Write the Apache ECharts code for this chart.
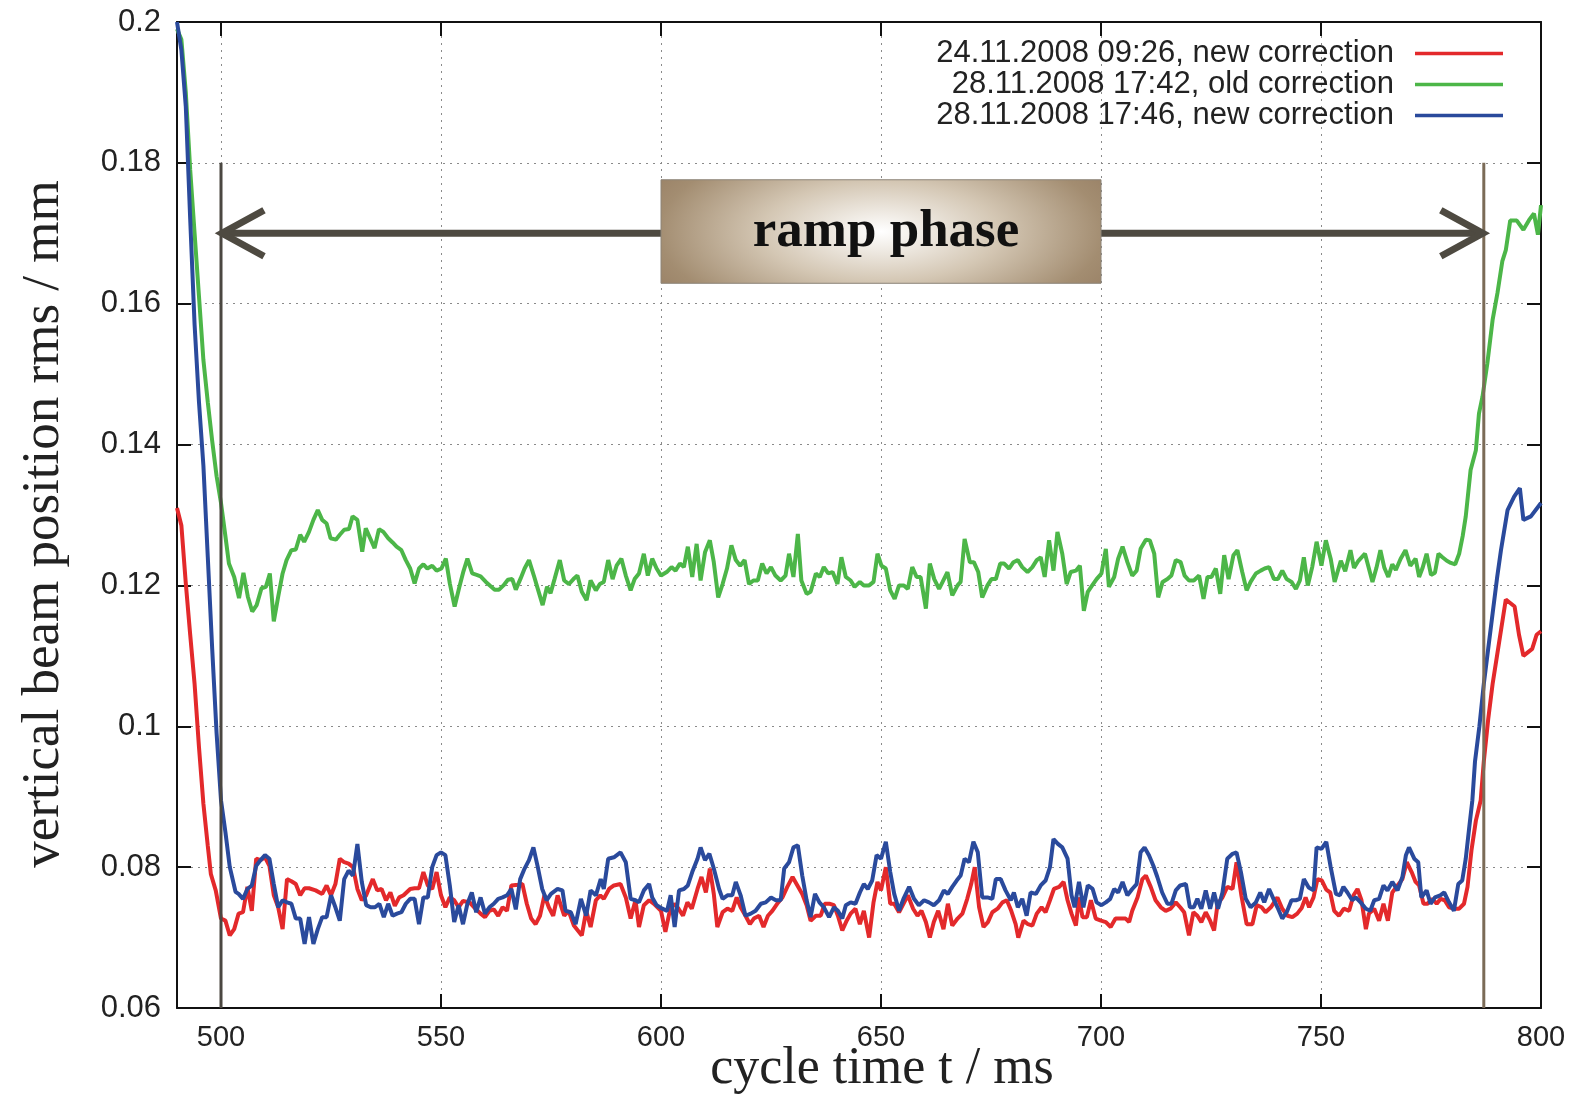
<!DOCTYPE html>
<html><head><meta charset="utf-8">
<script src="https://cdn.jsdelivr.net/npm/echarts@6/dist/echarts.min.js"></script>
<style>html,body{margin:0;padding:0;background:#fff}#c{width:1579px;height:1114px}</style>
</head><body><div id="c"></div>
<script>
const seriesNames = ['24.11.2008 09:26, new correction', '28.11.2008 17:42, old correction', '28.11.2008 17:46, new correction'];
const xTickValues = [500, 550, 600, 650, 700, 750, 800];
const xTitle = 'cycle time t / ms';
const yTitle = 'vertical beam position rms / mm';
const rampLabel = 'ramp phase';
const rampStart = 500, rampEnd = 787, arrowLevel = 0.17, markerTop = 0.18;
const boxX = [600, 700], boxY = [0.1776, 0.1629];

const redData = [[490,0.131],[491,0.1285],[492,0.1203],[493,0.113],[494,0.106],[495,0.097],[496,0.089],[497,0.083],[497.7,0.079],[498.8,0.0767],[500,0.0727],[501,0.0724],[502,0.0703],[503,0.0712],[504,0.0734],[505,0.0736],[506,0.0772],[507,0.0738],[508,0.0812],[509,0.081],[510,0.0814],[511,0.0802],[512,0.076],[513,0.0743],[514,0.0712],[515,0.0783],[516,0.078],[517,0.0776],[518,0.076],[519,0.077],[520,0.077],[521.5,0.0767],[523,0.0762],[524,0.0774],[525,0.076],[526,0.0776],[527,0.0812],[528,0.0807],[529,0.0805],[530,0.08],[531,0.0769],[532,0.0753],[533,0.076],[534.5,0.0783],[535.5,0.0767],[536.5,0.0769],[537.5,0.0753],[538.5,0.0764],[539.5,0.0745],[540.5,0.0757],[541.5,0.076],[543,0.0769],[544,0.077],[545,0.077],[546,0.0793],[547,0.0774],[548,0.0769],[549,0.0793],[550,0.076],[551,0.0743],[552,0.0757],[553,0.0753],[554,0.0743],[555,0.0752],[556.5,0.075],[557.5,0.0743],[559,0.0734],[560,0.0729],[561,0.0738],[562,0.074],[563,0.0731],[564,0.0743],[565,0.0738],[566,0.0774],[567.5,0.0775],[568.5,0.0776],[569.5,0.0748],[570.5,0.0727],[571.5,0.0719],[572.5,0.0731],[573.5,0.076],[574.5,0.0743],[575.5,0.0731],[576.5,0.076],[578,0.0731],[579,0.0738],[580.2,0.0717],[582,0.0703],[583,0.0738],[584,0.0715],[585.2,0.0753],[586.2,0.076],[587,0.0755],[588.2,0.0769],[589.3,0.0774],[590.8,0.0776],[592,0.0757],[593.1,0.0727],[594.2,0.0753],[595,0.0715],[596.1,0.0746],[597.3,0.0753],[598.4,0.0748],[600,0.0738],[601,0.0708],[602,0.0738],[603,0.0748],[604,0.0741],[605,0.0731],[606,0.075],[607,0.0741],[608.3,0.0769],[609.2,0.0786],[610.2,0.0764],[611.1,0.0798],[612,0.0762],[612.8,0.0715],[614,0.0736],[615.1,0.0741],[616.2,0.0738],[617.2,0.0757],[618.1,0.0743],[619.2,0.0731],[620.2,0.0719],[621.1,0.0727],[622.3,0.0731],[623.3,0.0715],[624.3,0.0731],[625.3,0.0738],[626.4,0.0748],[627.6,0.0757],[628.7,0.0772],[629.9,0.0786],[631,0.0774],[632.1,0.0762],[633.1,0.0746],[634,0.0724],[635.2,0.0731],[636.3,0.0731],[637.2,0.0748],[638.4,0.0748],[639.3,0.0746],[640.2,0.0731],[641.2,0.071],[642.2,0.0724],[643.1,0.0734],[644.2,0.0741],[645.2,0.0719],[646.1,0.0738],[647.3,0.07],[648.3,0.075],[649.2,0.0779],[650,0.0767],[651.1,0.08],[652.1,0.0748],[653,0.0748],[654.1,0.0736],[655.1,0.0748],[656.1,0.076],[657.3,0.0741],[658.3,0.0731],[659.2,0.0738],[660.2,0.0722],[661.1,0.07],[662,0.0722],[663,0.0738],[664.2,0.0712],[665.2,0.0748],[666.2,0.0717],[667.4,0.0727],[668.5,0.0734],[669.6,0.0755],[670.5,0.0776],[671.3,0.08],[672.3,0.0743],[673.3,0.0715],[674.3,0.0722],[675.3,0.0736],[676.5,0.0741],[677.6,0.075],[678.6,0.0753],[679.6,0.0738],[680.6,0.0719],[681.2,0.07],[682.4,0.0724],[683.4,0.0719],[684.4,0.0717],[685.4,0.0734],[686.5,0.0743],[687.4,0.0736],[688.4,0.0753],[689.3,0.0769],[690.5,0.0772],[691.5,0.0779],[692.4,0.0753],[693.3,0.0734],[694.3,0.0717],[695,0.0757],[695.8,0.0729],[696.8,0.0729],[697.7,0.0753],[698.8,0.0727],[700,0.0724],[701.1,0.0722],[702.2,0.0715],[703.3,0.0727],[704.5,0.0727],[705.6,0.0727],[706.4,0.0722],[707.1,0.0738],[708.3,0.0757],[709.4,0.0783],[710.2,0.0788],[711.3,0.0772],[712.4,0.0753],[713.6,0.0743],[714.7,0.0738],[715.8,0.0741],[717,0.075],[718,0.0743],[718.9,0.0736],[720,0.0703],[721,0.0736],[721.9,0.0731],[722.8,0.0722],[723.8,0.0736],[724.8,0.0724],[725.7,0.071],[726.5,0.0748],[727.6,0.0757],[728.7,0.0772],[729.9,0.0769],[730.8,0.0807],[731.9,0.076],[733.1,0.0719],[734.4,0.0719],[735.4,0.0746],[736.5,0.0743],[737.4,0.0736],[738.6,0.0743],[740.1,0.0757],[741.2,0.0741],[742.4,0.0731],[743.5,0.0729],[744.6,0.0734],[745.6,0.0742],[746.5,0.0757],[747.3,0.0743],[748.3,0.0757],[749.2,0.0783],[750.2,0.0781],[751.2,0.0768],[752.1,0.0764],[753,0.0738],[754.1,0.0731],[755.2,0.0741],[756.4,0.0738],[757.4,0.076],[758.3,0.0769],[759.2,0.0753],[760.2,0.0712],[760.9,0.0734],[762.1,0.0741],[763.2,0.0724],[764.2,0.0748],[765.2,0.0724],[766.2,0.0764],[767.4,0.0774],[768.5,0.0783],[769.5,0.0807],[770.6,0.0793],[771.5,0.0779],[772.3,0.0774],[773.3,0.0748],[774.2,0.0748],[775.3,0.0755],[776.3,0.0748],[777.2,0.0755],[778.1,0.0753],[779.1,0.0743],[780.2,0.0741],[781.4,0.0741],[782.5,0.0748],[783.3,0.0772],[784.2,0.0824],[785.2,0.0866],[786.3,0.0895],[787,0.095],[788,0.101],[789,0.106],[790,0.11],[791,0.114],[792,0.118],[793,0.1175],[794,0.117],[795,0.113],[796,0.11],[797,0.1105],[798,0.111],[799,0.113],[800,0.1135]];

const greenData = [[490,0.199],[491,0.1975],[492,0.19],[493,0.179],[494,0.17],[495,0.161],[496,0.152],[497,0.146],[498,0.1405],[499,0.1355],[500,0.1317],[501,0.127],[501.8,0.1231],[503,0.1212],[504.1,0.1182],[505.1,0.1218],[506.1,0.1184],[507.1,0.1163],[508.1,0.1172],[509.2,0.1196],[510.2,0.1198],[511.1,0.1217],[512,0.1149],[513,0.1184],[514,0.1217],[514.9,0.1236],[516,0.125],[517,0.1251],[518,0.1272],[518.9,0.1262],[520,0.1276],[521,0.1293],[522,0.1307],[523,0.1293],[524,0.1288],[524.9,0.1267],[526.1,0.1265],[527,0.1272],[528,0.1279],[529.1,0.128],[529.9,0.1298],[531,0.1293],[532.1,0.1248],[532.9,0.1281],[533.9,0.1267],[534.9,0.1253],[535.9,0.128],[536.9,0.1276],[538,0.1267],[539,0.1261],[539.9,0.1255],[541,0.125],[542,0.1236],[543,0.1224],[544,0.1203],[545,0.1224],[546,0.123],[546.9,0.1224],[548,0.1228],[549,0.1221],[550.1,0.1224],[551.1,0.1238],[552,0.1203],[553.1,0.117],[554.1,0.1196],[555.1,0.122],[556,0.1238],[557.1,0.1217],[558.1,0.1215],[559,0.1213],[560.2,0.1205],[561.1,0.12],[562.2,0.1194],[563.2,0.1194],[564.2,0.12],[565.2,0.1208],[566.2,0.1209],[567,0.1194],[568.1,0.121],[569,0.1224],[570,0.1236],[571.2,0.1212],[572.1,0.1193],[573.1,0.1172],[574.1,0.1198],[574.9,0.1189],[575.8,0.1209],[577,0.1236],[578,0.1207],[579.1,0.1202],[580.1,0.1209],[581,0.1214],[582,0.1191],[583.1,0.1179],[584,0.1207],[585.2,0.1193],[586.1,0.1202],[587,0.1205],[588,0.1236],[589,0.1209],[589.9,0.1228],[591,0.1238],[592,0.1214],[593.1,0.1193],[594,0.1209],[595,0.1217],[596.1,0.1245],[597,0.1214],[598,0.1238],[599,0.1224],[600,0.1214],[601.3,0.1219],[602.4,0.1226],[603.3,0.1221],[604.3,0.1231],[605.2,0.1226],[606.1,0.1255],[607.1,0.1212],[608.1,0.1259],[609,0.1207],[610,0.1247],[611.1,0.1264],[612,0.1233],[613,0.1183],[614,0.1202],[615,0.1224],[616,0.1257],[617,0.1236],[618,0.1228],[619,0.1236],[620,0.1202],[621,0.1207],[622,0.1207],[623,0.1231],[624,0.1217],[625,0.1226],[626,0.1214],[627.2,0.1207],[628.3,0.1214],[629.1,0.1245],[630.1,0.1212],[631.1,0.1273],[631.9,0.1207],[633.1,0.1188],[634,0.1191],[635.2,0.1217],[636.1,0.1212],[637,0.1226],[638,0.1217],[639,0.1219],[640.1,0.1202],[641,0.124],[642,0.1212],[643.1,0.1207],[644,0.1198],[645.2,0.1205],[646.1,0.12],[647.3,0.12],[648.3,0.1205],[649.2,0.1245],[650.1,0.1228],[651.1,0.1224],[652.1,0.1193],[653.1,0.1181],[654.1,0.12],[655.2,0.12],[656.1,0.1195],[657.1,0.1226],[658.1,0.1212],[659,0.1212],[660.2,0.1167],[661.1,0.1231],[662.1,0.1209],[663.2,0.1195],[664,0.1205],[665.1,0.1219],[666.2,0.1186],[667.4,0.12],[668.1,0.1205],[669,0.1266],[670.2,0.1233],[671.1,0.1233],[672.1,0.1219],[673,0.1183],[674.2,0.12],[675.1,0.1209],[676.1,0.1209],[677.1,0.1231],[678,0.1231],[679.1,0.1224],[680.1,0.1233],[681.1,0.1236],[682.1,0.1226],[683.3,0.1219],[684.4,0.1226],[685.4,0.1236],[686.3,0.124],[687.2,0.1212],[688.2,0.1264],[689.2,0.1221],[690.1,0.1276],[691.2,0.1245],[692.2,0.1202],[693.1,0.1219],[694.3,0.1221],[695.2,0.1228],[696.1,0.1164],[697,0.1191],[698,0.12],[699,0.1209],[700.1,0.1217],[701.1,0.1252],[701.8,0.1198],[703,0.1212],[703.9,0.1238],[704.9,0.1255],[706,0.1233],[707.1,0.1214],[708.1,0.1221],[709,0.1252],[710.2,0.1265],[711.1,0.1264],[712.1,0.1245],[713,0.1183],[714,0.1205],[715.1,0.1209],[716,0.1214],[717,0.1236],[718.1,0.1233],[719,0.1214],[720,0.1207],[721.1,0.1207],[722.3,0.1214],[723.3,0.1181],[724.2,0.1212],[725.1,0.1212],[726.1,0.1224],[727.1,0.1188],[728,0.1243],[729,0.1209],[730.1,0.1243],[731,0.125],[732.1,0.1219],[733.1,0.1193],[734,0.1205],[735.2,0.1217],[736.3,0.1221],[737.2,0.1224],[738.2,0.1226],[739.3,0.1209],[740.2,0.1209],[741.2,0.1221],[742.2,0.1209],[743.3,0.1205],[744.3,0.1195],[745.2,0.1207],[746.1,0.124],[747,0.12],[748,0.1226],[749,0.1262],[750.1,0.1228],[751.1,0.1264],[752.2,0.1238],[753.1,0.1205],[754.5,0.1235],[755.5,0.122],[756.7,0.125],[757.5,0.1225],[758.5,0.1235],[760,0.1245],[761.7,0.1205],[762.6,0.1225],[763.5,0.125],[764.4,0.1225],[765.3,0.1212],[766.2,0.123],[767,0.1222],[768.1,0.1238],[769.2,0.125],[770.3,0.1228],[771.5,0.1238],[772.3,0.1212],[773.1,0.1225],[774,0.1245],[775,0.1215],[775.9,0.1218],[776.7,0.1245],[777.6,0.124],[778.6,0.1235],[779.5,0.1232],[780.5,0.123],[781.4,0.1245],[782.2,0.127],[782.9,0.1298],[784,0.1364],[785.2,0.1392],[785.9,0.1444],[786.7,0.1468],[787.8,0.1515],[789,0.1577],[790.1,0.1615],[791.2,0.166],[792,0.1676],[793,0.1718],[794.5,0.1718],[796,0.1705],[797.3,0.1719],[798.4,0.1728],[799.3,0.1698],[800,0.174]];

const blueData = [[490,0.2],[491,0.196],[492,0.188],[493,0.172],[494,0.157],[495,0.146],[496,0.137],[497,0.124],[498,0.111],[499,0.099],[500,0.0895],[501,0.085],[502,0.08],[503.3,0.0765],[504,0.0762],[505,0.0755],[506,0.0769],[507,0.0774],[508,0.0802],[509,0.081],[510,0.0817],[511,0.0812],[512,0.0776],[513,0.0743],[514,0.0753],[515,0.075],[516,0.0748],[517,0.0727],[518,0.0727],[519,0.0691],[520,0.0729],[521,0.0691],[522,0.0712],[523,0.0729],[524,0.0729],[525,0.076],[526,0.0743],[527,0.0724],[528,0.0783],[529,0.0795],[530,0.0788],[531,0.0833],[532,0.0779],[533,0.0746],[534,0.0743],[535,0.0743],[536,0.0748],[537,0.0729],[538,0.0748],[539,0.0731],[540,0.0734],[541,0.0736],[542,0.0748],[543,0.0755],[544,0.0755],[545,0.0719],[546,0.0757],[547,0.0757],[548,0.08],[549,0.0817],[550,0.0821],[551,0.0817],[552,0.0774],[553,0.0722],[554,0.0746],[555,0.0719],[556,0.0748],[557,0.0764],[558,0.0736],[559,0.0757],[560,0.0734],[561,0.0743],[562,0.0748],[563,0.0755],[564,0.0757],[565,0.076],[566,0.0769],[567,0.074],[568,0.0783],[569,0.0798],[570,0.081],[571,0.0828],[572,0.08],[573,0.0769],[574,0.0753],[575,0.0762],[576.5,0.0769],[577.6,0.0767],[578.3,0.0738],[579.5,0.0736],[580.6,0.0719],[581.8,0.0755],[583,0.0731],[584,0.0767],[585.2,0.076],[586.3,0.0783],[587,0.0769],[588,0.0812],[589.3,0.0814],[590.8,0.0821],[592,0.0807],[593.1,0.0755],[594.2,0.0753],[595,0.075],[596.1,0.0767],[597.3,0.0776],[598,0.0757],[599,0.0746],[600.3,0.0741],[601.4,0.0738],[602.2,0.076],[603.1,0.0715],[604.1,0.0767],[605.2,0.0769],[606.1,0.0774],[607.1,0.0793],[608.3,0.0812],[609,0.0828],[610,0.081],[611,0.0819],[612,0.0798],[613.2,0.0769],[614,0.0755],[615.1,0.076],[616.2,0.076],[617,0.0779],[618.1,0.076],[619.2,0.0731],[620.4,0.0734],[621.5,0.0738],[622.7,0.0748],[623.8,0.075],[625,0.0757],[626.1,0.0753],[627.2,0.0753],[628,0.0798],[629.1,0.0807],[630.1,0.0828],[631.1,0.0831],[632.1,0.0788],[633.1,0.0753],[634,0.0729],[635,0.0762],[636,0.075],[637,0.0743],[638.2,0.0729],[639.3,0.0743],[640.2,0.0738],[641.2,0.0727],[642,0.0746],[643.1,0.075],[644.2,0.0748],[645.2,0.0764],[646.1,0.0776],[647,0.0769],[648,0.0781],[649,0.0817],[650,0.0812],[651.1,0.0836],[652.1,0.0793],[653,0.0762],[654.1,0.0738],[655.1,0.0755],[656.4,0.0772],[657.5,0.0755],[658.6,0.0746],[659.8,0.0753],[660.9,0.075],[662,0.0746],[663.2,0.0753],[664.3,0.0767],[665.2,0.0762],[666.2,0.0772],[667.2,0.0781],[668.1,0.0788],[669,0.0812],[670,0.0807],[671,0.0836],[672,0.0821],[673,0.0757],[674.2,0.0757],[675.3,0.0755],[676.1,0.0783],[677.2,0.0783],[678.3,0.0767],[679.5,0.0753],[680.2,0.0764],[681.1,0.0743],[682.1,0.0755],[683.1,0.0731],[684,0.0764],[685.2,0.0762],[686.3,0.0774],[687.4,0.0781],[688.4,0.08],[689.2,0.084],[690.2,0.0833],[691.2,0.0828],[692.4,0.0812],[693.3,0.076],[694,0.0743],[695,0.0779],[696,0.0743],[697,0.0774],[698.1,0.0769],[699,0.075],[700.1,0.0746],[701.1,0.075],[702.1,0.0755],[703,0.0769],[703.9,0.0764],[704.9,0.0779],[706,0.076],[707.1,0.0769],[708.1,0.0776],[709,0.0821],[709.9,0.0828],[710.9,0.0817],[711.9,0.0802],[712.8,0.0786],[713.9,0.0764],[715.1,0.0748],[716,0.0748],[717,0.0767],[718,0.0774],[719.3,0.0776],[720.2,0.0743],[721.1,0.0743],[721.9,0.0755],[722.8,0.0741],[723.8,0.0767],[724.8,0.0741],[725.7,0.0764],[726.6,0.0741],[727.6,0.0764],[728.7,0.0812],[729.9,0.0819],[730.8,0.0821],[731.8,0.0793],[732.9,0.0755],[734,0.0743],[735.2,0.075],[736.2,0.0764],[737.1,0.075],[738.2,0.0769],[739.2,0.0755],[740.1,0.0743],[741.2,0.0727],[742.2,0.0736],[743.3,0.0753],[744.3,0.0753],[745.2,0.0755],[746.1,0.0783],[747.2,0.0771],[748.3,0.0767],[749,0.0828],[750.1,0.0826],[751.2,0.0836],[752.2,0.08],[753.4,0.0762],[754.3,0.076],[755.1,0.0772],[756,0.0764],[757.1,0.0753],[757.9,0.0757],[759,0.075],[760.2,0.0741],[761.2,0.0738],[762.1,0.0753],[763.2,0.0755],[764.2,0.0774],[765.1,0.0767],[766.2,0.0779],[767.4,0.0767],[768.5,0.0786],[769.3,0.0817],[770,0.0828],[771.2,0.0812],[772.1,0.0807],[772.8,0.0757],[774,0.0767],[774.9,0.0748],[775.9,0.0757],[777.1,0.076],[778,0.0764],[779.1,0.075],[780.2,0.0738],[781.2,0.0776],[782.1,0.0781],[782.9,0.0812],[783.7,0.0857],[784.4,0.0895],[785,0.095],[786,0.1],[787,0.106],[788,0.111],[789,0.116],[790,0.121],[790.9,0.125],[792.4,0.1307],[793.9,0.1326],[795.2,0.1338],[796,0.1293],[797.7,0.1298],[800,0.1317]];

const colors = ['#e3292b', '#4cb648', '#2a4a9c'];
const chart = echarts.init(document.getElementById('c'), null, {renderer: 'canvas'});
const sans = 'Liberation Sans';
const serif = 'Liberation Serif';
const gridLine = {show: true, lineStyle: {color: '#8a8a8a', width: 1, type: [2, 5]}};
const axisLineStyle = {show: true, lineStyle: {color: '#111', width: 2}};
const tickStyle = {show: true, inside: true, length: 14, lineStyle: {color: '#111', width: 2}, customValues: xTickValues};

const option = {
  backgroundColor: '#fff',
  animation: false,
  grid: {left: 177, right: 38, top: 22, bottom: 106, containLabel: false},
  legend: {
    orient: 'vertical', right: 71, top: 33, align: 'right',
    itemWidth: 88, itemHeight: 14, itemGap: 0,
    data: seriesNames.map((n, i) => ({name: n, icon: 'path://M0,0 L100,0 L100,4 L0,4 Z', itemStyle: {color: colors[i]}})),
    textStyle: {fontFamily: sans, fontSize: 31, color: '#222', padding: [0, 16, 0, 0], lineHeight: 31}
  },
  xAxis: [{
    type: 'value', min: 490, max: 800, position: 'bottom',
    axisLine: axisLineStyle,
    axisTick: tickStyle,
    splitLine: gridLine,
    axisLabel: {customValues: xTickValues, margin: 15, fontFamily: sans, fontSize: 29, color: '#222'},
    name: xTitle, nameLocation: 'middle', nameGap: 35, nameMoveOverlap: false,
    nameTextStyle: {fontFamily: serif, fontSize: 52, color: '#222', padding: [0, 0, 0, 46]}
  }, {
    type: 'value', min: 490, max: 800, position: 'top',
    axisLine: axisLineStyle,
    axisTick: tickStyle,
    splitLine: {show: false},
    axisLabel: {show: false}
  }],
  yAxis: [{
    type: 'value', min: 0.06, max: 0.2, interval: 0.02, position: 'left',
    axisLine: axisLineStyle,
    axisTick: {show: true, inside: true, length: 14, lineStyle: {color: '#111', width: 2}},
    splitLine: gridLine,
    axisLabel: {margin: 16, fontFamily: sans, fontSize: 31, color: '#222'},
    name: yTitle, nameLocation: 'middle', nameGap: 106, nameRotate: 90, nameMoveOverlap: false,
    nameTextStyle: {fontFamily: serif, fontSize: 53, color: '#222', padding: [0, 18, 0, 0]}
  }, {
    type: 'value', min: 0.06, max: 0.2, interval: 0.02, position: 'right',
    axisLine: axisLineStyle,
    axisTick: {show: true, inside: true, length: 14, lineStyle: {color: '#111', width: 2}},
    splitLine: {show: false},
    axisLabel: {show: false}
  }],
  series: [
    {name: seriesNames[1], type: 'line', data: greenData, symbol: 'none', color: colors[1], lineStyle: {width: 4, color: colors[1]}, z: 2},
    {name: seriesNames[0], type: 'line', data: redData, symbol: 'none', color: colors[0], lineStyle: {width: 4, color: colors[0]}, z: 3},
    {name: seriesNames[2], type: 'line', data: blueData, symbol: 'none', color: colors[2], lineStyle: {width: 4, color: colors[2]}, z: 4}
  ]
};
chart.setOption(option);

function px(x, y) { return chart.convertToPixel({xAxisIndex: 0, yAxisIndex: 0}, [x, y]); }
const pL = px(rampStart, markerTop), pLb = px(rampStart, 0.06);
const pR = px(rampEnd, markerTop), pRb = px(rampEnd, 0.06);
const ya = px(rampStart, arrowLevel)[1];
const b0 = px(boxX[0], boxY[0]), b1 = px(boxX[1], boxY[1]);
const bw = b1[0] - b0[0], bh = b1[1] - b0[1];
const cx = (b0[0] + b1[0]) / 2, cy = (b0[1] + b1[1]) / 2;
const sx = 2.36;
const arrowColor = '#4e4a41';
chart.setOption({
  graphic: [
    {type: 'line', z: 50, shape: {x1: pL[0], y1: pL[1], x2: pLb[0], y2: pLb[1]}, style: {stroke: '#4b4741', lineWidth: 3}},
    {type: 'line', z: 50, shape: {x1: pR[0], y1: pR[1], x2: pRb[0], y2: pRb[1]}, style: {stroke: '#7b6b57', lineWidth: 3}},
    {type: 'line', z: 51, shape: {x1: pL[0] + 4, y1: ya, x2: pR[0] - 4, y2: ya}, style: {stroke: arrowColor, lineWidth: 7}},
    {type: 'polyline', z: 51, shape: {points: [[pL[0] + 43, ya - 23], [pL[0] + 1, ya], [pL[0] + 43, ya + 23]]}, style: {stroke: arrowColor, lineWidth: 7, lineJoin: 'miter', fill: null}},
    {type: 'polyline', z: 51, shape: {points: [[pR[0] - 43, ya - 23], [pR[0] - 1, ya], [pR[0] - 43, ya + 23]]}, style: {stroke: arrowColor, lineWidth: 7, lineJoin: 'miter', fill: null}},
    {type: 'rect', z: 52, x: cx, y: cy, scaleX: sx,
      shape: {x: -bw / (2 * sx), y: -bh / 2, width: bw / sx, height: bh},
      style: {fill: new echarts.graphic.RadialGradient(0.5, 0.5, 1.07, [
        {offset: 0, color: '#ffffff'}, {offset: 0.45, color: '#d4c7b4'}, {offset: 0.85, color: '#a38d71'}, {offset: 1, color: '#998166'}])}},
    {type: 'rect', z: 53, shape: {x: b0[0], y: b0[1], width: bw, height: bh}, style: {fill: null, stroke: '#8c8478', lineWidth: 1}},
    {type: 'text', z: 54, x: cx + 5, y: cy + 1, style: {text: rampLabel, font: 'bold 53px "Liberation Serif"', fill: '#111', textAlign: 'center', textVerticalAlign: 'middle'}}
  ]
});
</script>
</body></html>
